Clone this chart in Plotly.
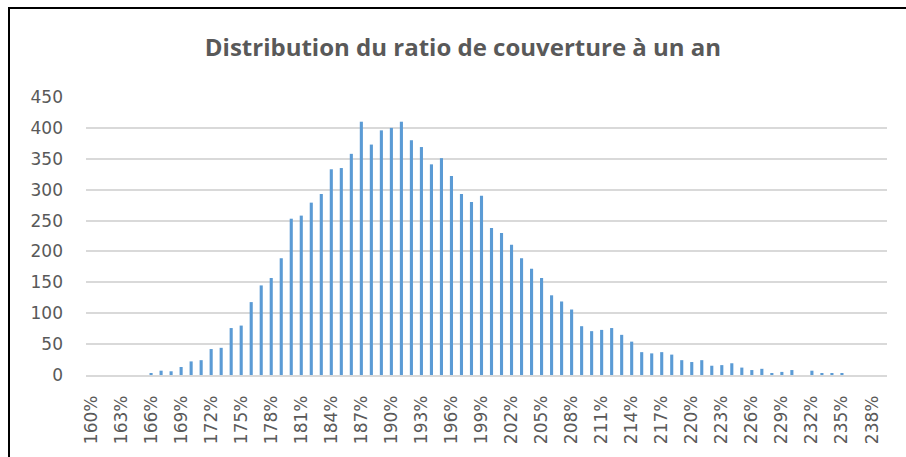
import plotly.graph_objects as go

# Coverage ratio buckets (160% .. 239%) and simulated scenario counts
ratios = [f"{r}%" for r in range(160, 240)]
counts = [
    0, 0, 0, 0, 0, 0, 3, 7, 6, 13,            # 160-169
    22, 24, 42, 44, 76, 80, 118, 145, 157, 189,  # 170-179
    253, 258, 279, 293, 333, 335, 358, 410, 373, 396,  # 180-189
    400, 410, 380, 369, 341, 351, 322, 293, 280, 290,  # 190-199
    238, 230, 211, 189, 172, 157, 129, 119, 106, 79,   # 200-209
    71, 73, 76, 65, 54, 37, 35, 37, 33, 24,   # 210-219
    21, 24, 15, 16, 19, 12, 8, 10, 2, 5,      # 220-229
    8, 0, 7, 2, 2, 2, 0, 0, 0, 0,             # 230-239
]
tick_labels = ratios[::3]
y_ticks = list(range(0, 451, 50))

title_text = "Distribution du ratio de couverture à un an"

W, H = 906, 457
L, R, T, B = 86, 19, 97, 82
pw, ph = W - L - R, H - T - B

fig = go.Figure(
    go.Bar(
        x=ratios,
        y=counts,
        marker=dict(color="#5B9BD5", line=dict(width=0)),
        hoverinfo="x+y",
    )
)

grey = "#595959"
tick_font = dict(family="DejaVu Sans", size=17, color=grey)

fig.update_layout(
    width=W,
    height=H,
    margin=dict(l=L, r=R, t=T, b=B, pad=0),
    paper_bgcolor="white",
    plot_bgcolor="white",
    bargap=0.69,
    showlegend=False,
    title=dict(
        text=f"<b>{title_text}</b>",
        x=0.511,
        xanchor="center",
        y=1 - 48 / H,
        yanchor="middle",
        font=dict(family="Open Sans", size=24, color=grey),
    ),
    xaxis=dict(
        type="category",
        categoryorder="array",
        categoryarray=ratios,
        tickmode="array",
        tickvals=tick_labels,
        ticktext=tick_labels,
        tickangle=-90,
        tickfont=tick_font,
        ticks="",
        showgrid=False,
        showline=True,
        linecolor="#d9d9d9",
        linewidth=1.5,
        ticklabelstandoff=12,
        range=[-0.5, len(ratios) - 0.5],
    ),
    yaxis=dict(
        range=[0, 450],
        tickmode="array",
        tickvals=y_ticks,
        tickfont=tick_font,
        ticks="",
        showgrid=True,
        gridcolor="#d9d9d9",
        gridwidth=1.5,
        zeroline=False,
        showline=False,
        ticklabelstandoff=22,
    ),
    shapes=[
        dict(
            type="rect",
            xref="paper",
            yref="paper",
            x0=(9 - L) / pw,
            x1=(W + 20 - L) / pw,
            y0=(T + ph - (H + 20)) / ph,
            y1=(T + ph - 8) / ph,
            line=dict(color="black", width=2),
            fillcolor="rgba(0,0,0,0)",
            layer="above",
        )
    ],
)

fig.write_html("out.html")
